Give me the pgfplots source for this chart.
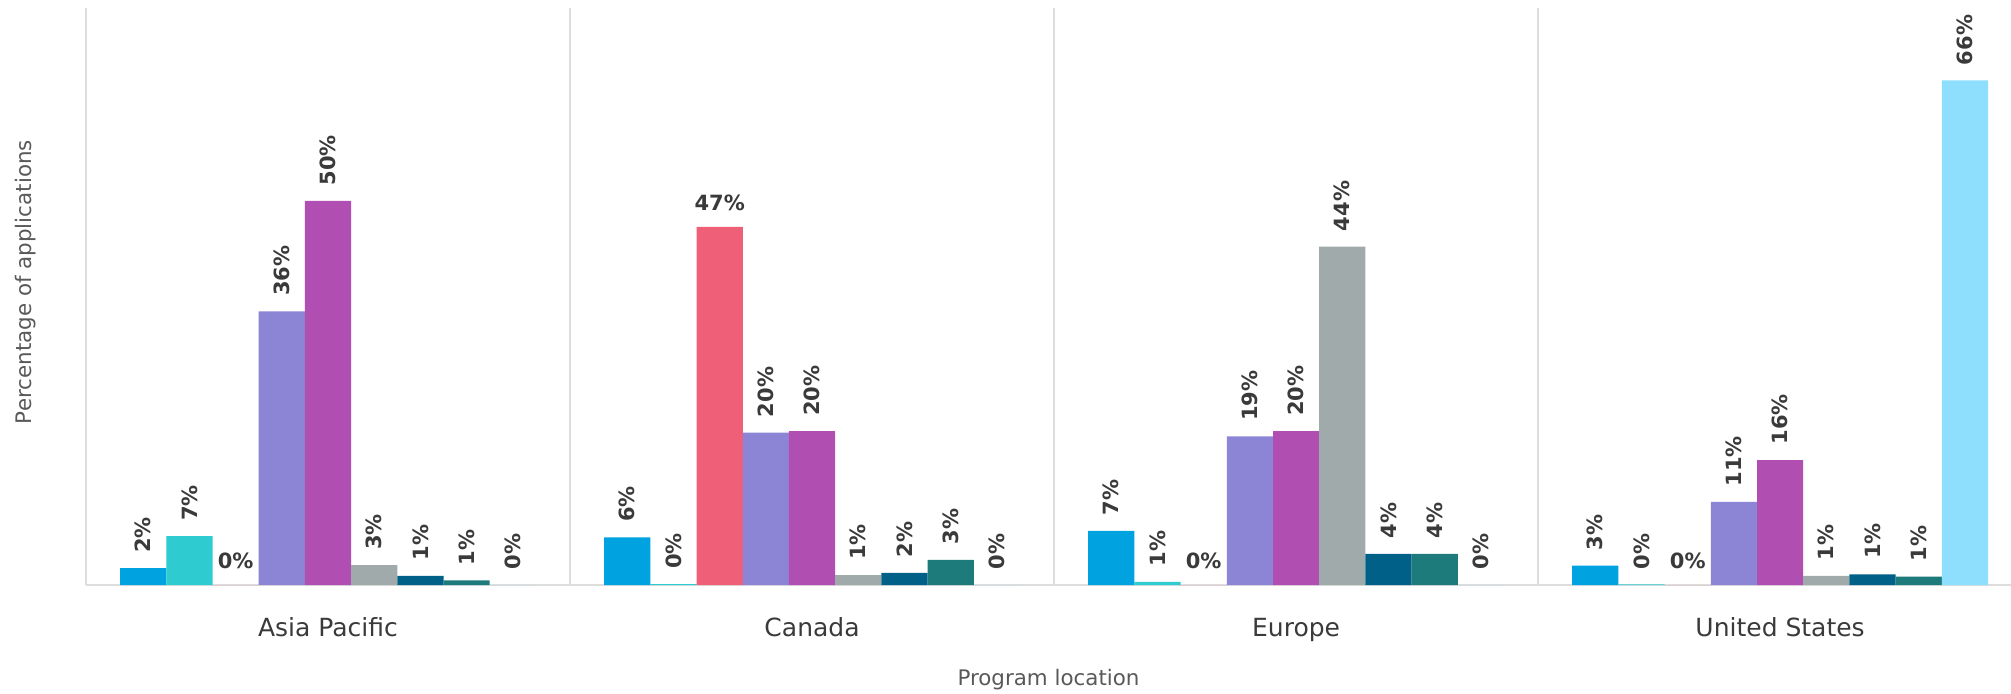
\documentclass[border=0pt]{standalone}
\usepackage{fontspec}
\setmainfont{DejaVu Sans}
\usepackage{pgfplots}
\pgfplotsset{compat=1.18}

\definecolor{cBlue}{HTML}{00A2E0}
\definecolor{cCyan}{HTML}{2ECBD1}
\definecolor{cRed}{HTML}{EF5F78}
\definecolor{cLav}{HTML}{8C85D6}
\definecolor{cMag}{HTML}{B04FB1}
\definecolor{cGrey}{HTML}{A0AAAA}
\definecolor{cNavy}{HTML}{006087}
\definecolor{cTeal}{HTML}{1E7B7B}
\definecolor{cSky}{HTML}{8DDFFD}
\definecolor{labtext}{HTML}{3A3A3A}
\definecolor{gridc}{HTML}{DDDDDD}

\begin{document}
\begin{tikzpicture}
\begin{axis}[
    name=ax, at={(0,0)}, anchor=south west,
    scale only axis,
    width=962.5pt, height=288.5pt,
    ybar=0pt, bar width=23.1pt,
    xmin=-0.5, xmax=3.477,
    ymin=0, ymax=75.7,
    axis x line*=bottom, axis y line=none,
    x axis line style={draw=gridc, line width=1pt},
    xtick={0,1,2,3},
    xticklabels={Asia Pacific,Canada,Europe,United States},
    major tick length=0pt,
    xticklabel style={anchor=base, yshift=-25.5pt, font=\fontsize{12.5}{14}\selectfont, text=labtext},
    extra x ticks={-0.5,0.5,1.5,2.5},
    extra x tick labels={},
    extra x tick style={grid=major, major grid style={draw=gridc, line width=1pt}},
    ytick=\empty,
    clip=false,
    xlabel={Program location},
    every axis x label/.style={at={(axis description cs:0.5,0)}, anchor=center, yshift=-47.5pt,
        font=\fontsize{10.7}{12}\selectfont, text=black!65},
    point meta=explicit symbolic,
    nodes near coords={\pgfplotspointmeta\%},
    every node near coord/.append style={font=\bfseries\fontsize{10.5}{12}\selectfont, text=labtext,
        rotate=90, anchor=west, inner xsep=7.5pt, inner ysep=0pt},
]
% blue
\addplot[fill=cBlue, draw=none] coordinates {(0,2.2) [2] (1,6.25) [6] (2,7.1) [7] (3,2.55) [3]};
% cyan
\addplot[fill=cCyan, draw=none] coordinates {(0,6.4) [7] (1,0.12) [0] (2,0.4) [1] (3,0.08) [0]};
% red
\addplot[fill=cRed, draw=none, every node near coord/.append style={rotate=-90, anchor=south, inner xsep=0pt, inner ysep=8pt}]
    coordinates {(0,0) [0] (1,47) [47] (2,0) [0] (3,0) [0]};
% lavender
\addplot[fill=cLav, draw=none] coordinates {(0,35.9) [36] (1,20.0) [20] (2,19.5) [19] (3,10.9) [11]};
% magenta
\addplot[fill=cMag, draw=none] coordinates {(0,50.4) [50] (1,20.2) [20] (2,20.2) [20] (3,16.4) [16]};
% grey
\addplot[fill=cGrey, draw=none] coordinates {(0,2.6) [3] (1,1.3) [1] (2,44.4) [44] (3,1.2) [1]};
% navy
\addplot[fill=cNavy, draw=none] coordinates {(0,1.2) [1] (1,1.6) [2] (2,4.07) [4] (3,1.4) [1]};
% teal
\addplot[fill=cTeal, draw=none] coordinates {(0,0.6) [1] (1,3.3) [3] (2,4.07) [4] (3,1.1) [1]};
% light sky
\addplot[fill=cSky, draw=none] coordinates {(0,0) [0] (1,0) [0] (2,0) [0] (3,66.2) [66]};
\end{axis}
\node[rotate=90, anchor=center, font=\fontsize{10.7}{12}\selectfont, text=black!65]
    at ([xshift=-30.2pt,yshift=7.2pt]ax.west) {Percentage of applications};
\pgfresetboundingbox
\path[use as bounding box] (-43pt,-54pt) rectangle (962.5pt,292.5pt);
\end{tikzpicture}
\end{document}
